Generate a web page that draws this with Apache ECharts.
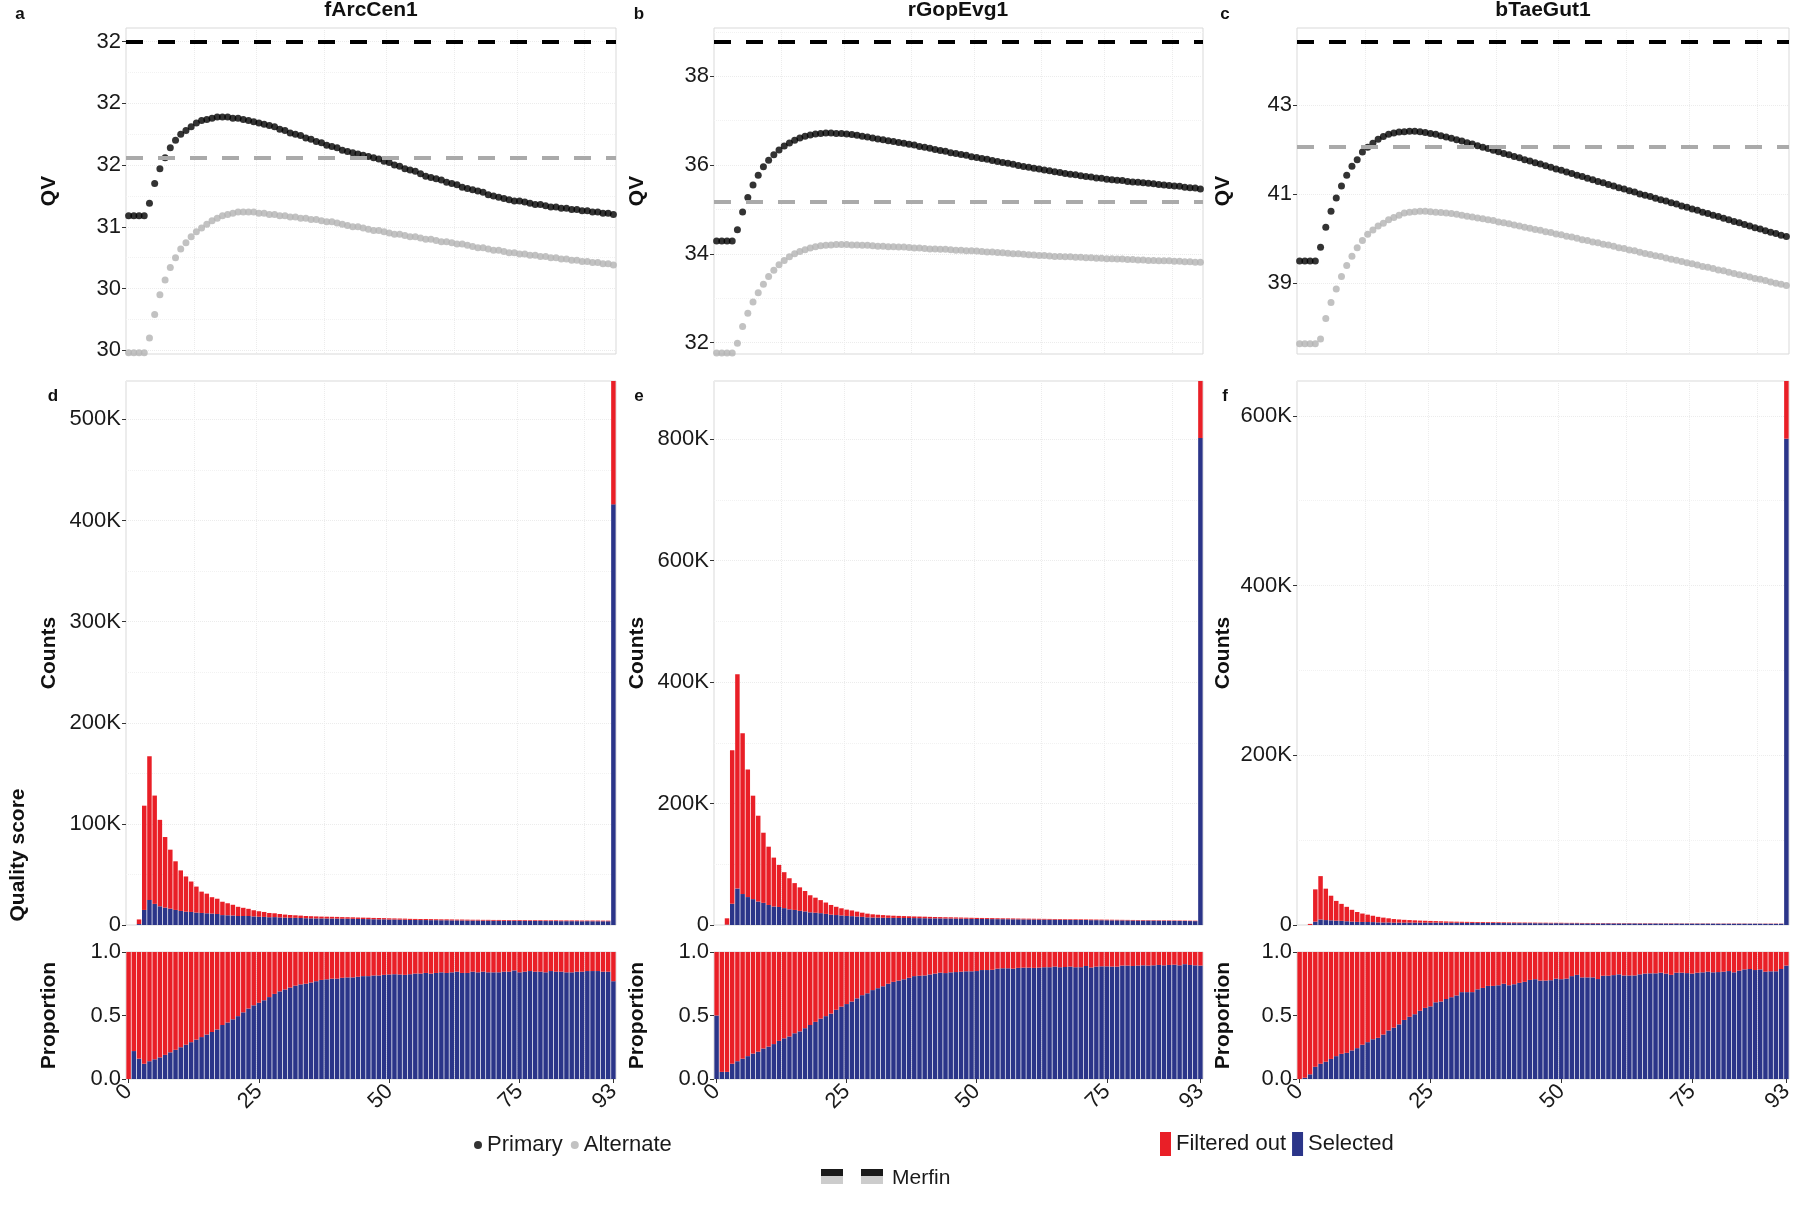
<!DOCTYPE html>
<html><head><meta charset="utf-8">
<script src="https://cdn.jsdelivr.net/npm/echarts@6/dist/echarts.min.js"></script>
<style>html,body{margin:0;padding:0;background:#fff}#chart{width:1800px;height:1213px}</style>
</head><body><div id="chart"></div>
<script>
// ---------------- DATA ----------------
const qualityScores = Array.from({length: 94}, (_, i) => String(i));
const assemblies = ['fArcCen1', 'rGopEvg1', 'bTaeGut1'];
const xTickIdx = [0, 25, 50, 75, 93];

const qvPrimaryA = [31.09,31.09,31.09,31.09,31.19,31.35,31.47,31.56,31.64,31.70,
 31.75,31.78,31.81,31.84,31.86,31.87,31.88,31.89,31.89,31.89,
 31.88,31.88,31.87,31.86,31.85,31.84,31.83,31.82,31.81,31.79,
 31.78,31.76,31.75,31.74,31.72,31.71,31.69,31.68,31.66,31.65,
 31.64,31.62,31.61,31.60,31.59,31.58,31.57,31.56,31.55,31.53,
 31.52,31.50,31.49,31.47,31.46,31.45,31.43,31.41,31.40,31.39,
 31.38,31.36,31.35,31.34,31.32,31.31,31.30,31.29,31.28,31.26,
 31.25,31.24,31.23,31.22,31.21,31.21,31.20,31.19,31.18,31.18,
 31.17,31.16,31.16,31.15,31.15,31.14,31.14,31.13,31.13,31.12,
 31.12,31.11,31.11,31.10];
const qvAltA = [29.98,29.98,29.98,29.98,30.10,30.29,30.45,30.57,30.67,30.75,
 30.82,30.87,30.92,30.96,30.99,31.02,31.05,31.07,31.09,31.10,
 31.11,31.12,31.12,31.12,31.12,31.11,31.11,31.10,31.10,31.09,
 31.09,31.08,31.08,31.07,31.07,31.06,31.06,31.05,31.04,31.04,
 31.03,31.02,31.01,31.00,31.00,30.99,30.98,30.97,30.97,30.96,
 30.95,30.94,30.94,30.93,30.92,30.92,30.91,30.90,30.90,30.89,
 30.88,30.88,30.87,30.86,30.86,30.85,30.84,30.83,30.83,30.82,
 30.81,30.81,30.80,30.79,30.79,30.78,30.78,30.77,30.77,30.76,
 30.76,30.75,30.75,30.74,30.74,30.73,30.73,30.72,30.72,30.71,
 30.71,30.70,30.70,30.69];
const qvPrimaryB = [34.29,34.29,34.29,34.29,34.54,34.94,35.27,35.55,35.77,35.96,
 36.11,36.23,36.34,36.43,36.50,36.56,36.61,36.65,36.68,36.70,
 36.71,36.72,36.72,36.71,36.71,36.70,36.69,36.67,36.65,36.63,
 36.61,36.59,36.57,36.55,36.53,36.51,36.49,36.47,36.45,36.42,
 36.40,36.38,36.35,36.33,36.31,36.28,36.26,36.24,36.22,36.19,
 36.17,36.15,36.13,36.10,36.08,36.06,36.04,36.02,35.99,35.97,
 35.95,35.93,35.91,35.89,35.87,35.85,35.83,35.81,35.79,35.78,
 35.76,35.74,35.73,35.71,35.70,35.68,35.67,35.66,35.65,35.63,
 35.62,35.61,35.60,35.59,35.58,35.56,35.55,35.54,35.53,35.52,
 35.50,35.49,35.48,35.46];
const qvAltB = [31.76,31.76,31.76,31.76,31.98,32.36,32.66,32.91,33.12,33.31,
 33.49,33.63,33.75,33.85,33.93,34.00,34.05,34.09,34.13,34.16,
 34.18,34.19,34.20,34.21,34.21,34.21,34.20,34.20,34.19,34.19,
 34.18,34.17,34.17,34.16,34.16,34.15,34.15,34.14,34.13,34.13,
 34.12,34.11,34.11,34.10,34.10,34.09,34.08,34.08,34.07,34.07,
 34.06,34.05,34.04,34.04,34.03,34.02,34.01,34.00,34.00,33.99,
 33.98,33.97,33.96,33.96,33.95,33.94,33.94,33.93,33.93,33.92,
 33.92,33.91,33.91,33.90,33.90,33.89,33.89,33.88,33.88,33.87,
 33.87,33.86,33.86,33.85,33.85,33.84,33.84,33.84,33.83,33.83,
 33.82,33.82,33.81,33.81];
const qvPrimaryC = [39.49,39.49,39.49,39.49,39.80,40.25,40.61,40.91,41.18,41.42,
 41.62,41.77,41.94,42.05,42.14,42.23,42.29,42.34,42.37,42.39,
 42.40,42.41,42.41,42.40,42.38,42.36,42.34,42.31,42.28,42.25,
 42.22,42.19,42.15,42.12,42.08,42.05,42.02,41.98,41.95,41.91,
 41.88,41.84,41.81,41.77,41.74,41.70,41.67,41.63,41.60,41.56,
 41.53,41.49,41.46,41.42,41.39,41.35,41.32,41.28,41.25,41.21,
 41.18,41.14,41.11,41.07,41.04,41.00,40.97,40.94,40.90,40.87,
 40.84,40.80,40.77,40.73,40.70,40.66,40.63,40.59,40.56,40.52,
 40.49,40.45,40.42,40.38,40.35,40.31,40.28,40.24,40.21,40.17,
 40.14,40.11,40.07,40.04];
const qvAltC = [37.63,37.63,37.63,37.63,37.74,38.20,38.56,38.86,39.14,39.39,
 39.60,39.79,39.95,40.09,40.19,40.28,40.34,40.42,40.47,40.52,
 40.57,40.59,40.60,40.61,40.61,40.60,40.59,40.58,40.57,40.56,
 40.54,40.52,40.50,40.48,40.46,40.44,40.42,40.40,40.37,40.35,
 40.33,40.30,40.28,40.25,40.23,40.20,40.18,40.15,40.13,40.10,
 40.08,40.05,40.03,40.00,39.97,39.95,39.92,39.90,39.87,39.85,
 39.82,39.79,39.77,39.74,39.72,39.69,39.66,39.64,39.61,39.59,
 39.56,39.53,39.51,39.48,39.45,39.43,39.40,39.37,39.35,39.32,
 39.29,39.27,39.24,39.21,39.18,39.16,39.13,39.10,39.08,39.05,
 39.02,38.99,38.97,38.94];

const merfinPrimary = [32.5, 38.78, 44.42];
const merfinAlternate = [31.56, 35.17, 42.05];

const qvTicksA = [30, 30.5, 31, 31.5, 32, 32.5];
const qvTickLabelsA = ['30', '30', '31', '32', '32', '32'];
const qvTicksB = [32, 34, 36, 38];
const qvTickLabelsB = ['32', '34', '36', '38'];
const qvTicksC = [39, 41, 43];
const qvTickLabelsC = ['39', '41', '43'];

// counts in thousands
const totalD = [0,0,5.5,118,167,128,104,87,74.5,63,
 54,48,43,38,33,31,27.5,26,23,21.5,
 20,18,17,16,14.6,13.6,12.9,11.9,11.6,10.9,
 10.3,9.9,9.6,9.3,8.9,8.7,8.5,8.3,8.2,8.1,
 8.0,7.8,7.7,7.6,7.4,7.3,7.2,7.0,6.9,6.8,
 6.6,6.5,6.4,6.3,6.1,6.0,5.9,5.9,5.8,5.7,
 5.6,5.6,5.5,5.4,5.4,5.3,5.2,5.2,5.1,5.1,
 5.0,5.0,4.9,4.9,4.8,4.8,4.8,4.7,4.7,4.7,
 4.6,4.6,4.6,4.5,4.5,4.5,4.5,4.4,4.4,4.4,
 4.4,4.3,4.3,538];
const selectedD = [0,0,0.9,14.9,24.8,20.9,18.5,17.2,16.2,14.9,
 13.9,13.2,12.9,12.3,11.9,11.6,11.3,10.9,9.8,9.6,
 9.4,8.9,8.9,8.9,8.5,8.2,8.0,7.7,7.8,7.5,
 7.3,7.1,7.1,6.9,6.7,6.6,6.5,6.5,6.4,6.4,
 6.3,6.2,6.2,6.1,6.0,5.9,5.8,5.7,5.6,5.6,
 5.4,5.4,5.3,5.2,5.0,5.0,4.9,4.9,4.8,4.8,
 4.7,4.7,4.6,4.6,4.5,4.4,4.4,4.4,4.3,4.3,
 4.2,4.2,4.1,4.2,4.1,4.0,4.1,4.0,4.0,4.0,
 3.9,3.9,3.9,3.8,3.8,3.8,3.8,3.7,3.8,3.7,
 3.7,3.7,3.7,416];
const totalE = [0,0,11,288,413,316,256,213,180,152,
 129,111,99,87,77,69,62,56,49,45,
 41,37,33,30,27.5,25.3,24,22,20.3,18.7,
 17.6,16.9,16.3,15.7,15.3,15.0,14.7,14.4,14.1,13.9,
 13.7,13.4,13.2,13.0,12.8,12.7,12.5,12.3,12.1,11.9,
 11.7,11.6,11.4,11.3,11.1,11.0,10.9,10.8,10.6,10.5,
 10.4,10.3,10.2,10.1,10.0,9.9,9.8,9.6,9.5,9.4,
 9.3,9.2,9.1,9.0,8.9,8.8,8.7,8.6,8.5,8.4,
 8.3,8.2,8.1,8.0,7.9,7.8,7.7,7.6,7.5,7.4,
 7.3,7.2,7.1,896];
const selectedE = [0,0,0.6,35,60,51,46,42.6,38.7,36.5,
 33,30.5,29.7,27.8,25.8,24.8,23.3,22.4,20.8,20.2,
 19.5,18.3,17.0,16.4,15.7,14.9,14.6,14.0,13.4,12.6,
 12.3,12.1,11.9,11.8,11.7,11.6,11.5,11.5,11.4,11.3,
 11.2,11.0,11.0,10.9,10.7,10.7,10.5,10.4,10.3,10.1,
 9.9,10.0,9.8,9.7,9.6,9.6,9.5,9.4,9.3,9.2,
 9.1,9.0,8.9,8.9,8.8,8.8,8.6,8.5,8.4,8.3,
 8.2,8.2,8.0,8.0,7.9,7.8,7.7,7.7,7.6,7.5,
 7.4,7.3,7.2,7.2,7.1,7.0,6.9,6.8,6.8,6.6,
 6.6,6.5,6.4,802];
const totalF = [0,0,1.3,42,57.6,42.8,34.5,28.4,24.9,21.4,
 17.9,15.3,13.5,12.2,10.9,9.6,8.7,7.9,7.0,6.5,
 6.1,5.8,5.5,5.2,5.0,4.8,4.6,4.4,4.2,4.0,
 3.9,3.8,3.7,3.6,3.5,3.4,3.3,3.3,3.2,3.1,
 3.0,3.0,2.9,2.9,2.8,2.8,2.7,2.7,2.6,2.6,
 2.6,2.5,2.5,2.5,2.4,2.4,2.4,2.3,2.3,2.3,
 2.2,2.2,2.2,2.2,2.1,2.1,2.1,2.1,2.0,2.0,
 2.0,2.0,2.0,1.9,1.9,1.9,1.9,1.9,1.9,1.8,
 1.8,1.8,1.8,1.8,1.8,1.8,1.7,1.7,1.7,1.7,
 1.7,1.7,1.7,641];
const selectedF = [0,0,0.05,4.0,6.5,5.8,5.5,5.1,4.9,4.4,
 4.0,3.7,3.6,3.5,3.4,3.1,3.0,3.0,2.8,2.8,
 2.8,2.8,2.8,2.8,2.8,2.7,2.8,2.7,2.6,2.6,
 2.6,2.6,2.5,2.5,2.5,2.4,2.4,2.4,2.4,2.3,
 2.2,2.2,2.2,2.2,2.2,2.1,2.1,2.1,2.0,2.1,
 2.0,2.0,2.0,2.0,1.9,1.9,1.9,1.8,1.9,1.9,
 1.8,1.8,1.8,1.8,1.8,1.7,1.7,1.7,1.7,1.7,
 1.7,1.6,1.7,1.6,1.6,1.6,1.6,1.6,1.6,1.6,
 1.5,1.5,1.5,1.5,1.5,1.5,1.5,1.5,1.5,1.4,
 1.4,1.4,1.5,573];

// proportion selected
const propD = [0.00,0.22,0.16,0.12,0.14,0.155,0.17,0.19,0.21,0.23,
 0.25,0.27,0.29,0.31,0.33,0.35,0.37,0.39,0.425,0.445,
 0.47,0.495,0.525,0.555,0.58,0.60,0.62,0.645,0.67,0.69,
 0.705,0.72,0.735,0.745,0.75,0.76,0.77,0.78,0.785,0.79,
 0.79,0.797,0.80,0.80,0.805,0.81,0.81,0.815,0.815,0.82,
 0.823,0.825,0.823,0.82,0.825,0.83,0.83,0.835,0.83,0.835,
 0.84,0.835,0.84,0.845,0.835,0.835,0.845,0.84,0.845,0.84,
 0.84,0.84,0.845,0.845,0.855,0.84,0.845,0.85,0.845,0.845,
 0.84,0.85,0.845,0.845,0.84,0.84,0.845,0.845,0.85,0.85,
 0.85,0.845,0.845,0.77];
const propE = [0.50,0.056,0.056,0.12,0.14,0.16,0.18,0.20,0.215,0.24,
 0.255,0.275,0.30,0.32,0.335,0.36,0.375,0.40,0.425,0.45,
 0.475,0.495,0.515,0.545,0.57,0.59,0.61,0.635,0.66,0.675,
 0.70,0.715,0.73,0.75,0.765,0.775,0.785,0.797,0.81,0.813,
 0.815,0.823,0.83,0.837,0.834,0.84,0.842,0.845,0.848,0.848,
 0.85,0.858,0.858,0.86,0.869,0.872,0.872,0.869,0.875,0.877,
 0.877,0.875,0.877,0.88,0.88,0.885,0.88,0.882,0.885,0.88,
 0.88,0.89,0.878,0.885,0.887,0.887,0.885,0.885,0.893,0.893,
 0.89,0.893,0.895,0.893,0.895,0.898,0.895,0.898,0.90,0.895,
 0.904,0.898,0.895,0.893];
const propF = [0.00,0.01,0.037,0.096,0.12,0.136,0.158,0.18,0.198,0.206,
 0.225,0.243,0.27,0.29,0.313,0.324,0.35,0.382,0.404,0.43,
 0.465,0.49,0.51,0.537,0.56,0.572,0.604,0.61,0.63,0.644,
 0.658,0.684,0.684,0.684,0.706,0.717,0.733,0.733,0.738,0.75,
 0.738,0.746,0.757,0.765,0.78,0.786,0.775,0.775,0.778,0.79,
 0.786,0.79,0.81,0.82,0.80,0.80,0.80,0.787,0.813,0.813,
 0.818,0.824,0.815,0.815,0.815,0.824,0.83,0.832,0.832,0.837,
 0.83,0.82,0.837,0.837,0.834,0.83,0.837,0.84,0.845,0.84,
 0.842,0.845,0.85,0.84,0.853,0.863,0.866,0.858,0.863,0.845,
 0.848,0.848,0.866,0.893];

// ---------------- STYLE / LAYOUT ----------------
const FONT = "'Liberation Sans', Arial, Helvetica, sans-serif";
const RED = '#E91F27', BLUE = '#2B3589';
const GRIDC = '#ECECEC';
const TXT = '#1a1a1a';
const colLeft = [126, 714, 1297], colWidth = [490, 489, 492];
const rowTop = [28, 381, 952], rowH = [326, 544, 127];

const qvPanels = [
  {prim: qvPrimaryA, alt: qvAltA, min: 29.97, max: 32.61, ticks: qvTicksA, labels: qvTickLabelsA, split: 5},
  {prim: qvPrimaryB, alt: qvAltB, min: 31.74, max: 39.09, ticks: qvTicksB, labels: qvTickLabelsB, split: 4},
  {prim: qvPrimaryC, alt: qvAltC, min: 37.40, max: 44.73, ticks: qvTicksC, labels: qvTickLabelsC, split: 4}
];
const countPanels = [
  {total: totalD, sel: selectedD, max: 538, interval: 100},
  {total: totalE, sel: selectedE, max: 896, interval: 200},
  {total: totalF, sel: selectedF, max: 641, interval: 200}
];
const propPanels = [propD, propE, propF];
const vGridIdx = [13, 25, 38, 50, 63, 75, 88];

const grids = [], xAxes = [], yAxes = [], series = [];
const nameStyle = {fontSize: 21, fontWeight: 'bold', fontFamily: FONT, color: '#111'};
const lblStyle = {fontSize: 22, fontFamily: FONT, color: TXT};
const tickStyle = {show: true, length: 4, lineStyle: {color: '#333', width: 1}};

for (let r = 0; r < 3; r++) {
  for (let c = 0; c < 3; c++) {
    const gi = r * 3 + c;
    grids.push({left: colLeft[c], top: rowTop[r], width: colWidth[c], height: rowH[r],
      show: true, borderColor: '#D9D9D9', borderWidth: 1, backgroundColor: '#fff',
      containLabel: false, outerBoundsMode: 'none'});
    const isBottom = r === 2;
    xAxes.push({
      gridIndex: gi, type: 'category', data: qualityScores, boundaryGap: true,
      axisLine: {show: false},
      axisTick: isBottom ? Object.assign({}, tickStyle, {alignWithLabel: true, interval: (i) => xTickIdx.includes(i)}) : {show: false},
      axisLabel: isBottom ? Object.assign({}, lblStyle, {show: true, interval: (i) => xTickIdx.includes(i), rotate: 45, margin: 9}) : {show: false},
      splitLine: {show: true, interval: (i) => vGridIdx.includes(i), lineStyle: {color: GRIDC, width: 1, type: 'dotted'}}
    });
    if (r === 0) {
      const p = qvPanels[c];
      yAxes.push({
        gridIndex: gi, type: 'value', min: p.min, max: p.max, splitNumber: p.split,
        axisLine: {show: false},
        axisTick: Object.assign({}, tickStyle, {customValues: p.ticks}),
        axisLabel: Object.assign({}, lblStyle, {customValues: p.ticks, margin: 5,
          formatter: (v) => { const k = p.ticks.findIndex(t => Math.abs(t - v) < 1e-6); return k >= 0 ? p.labels[k] : ''; }}),
        splitLine: {show: true, lineStyle: {color: GRIDC, type: 'dotted'}},
        minorTick: {show: false, splitNumber: 2},
        minorSplitLine: {show: c !== 2, lineStyle: {color: '#F2F2F2', type: 'dotted'}},
        name: 'QV', nameLocation: 'middle', nameRotate: 90, nameGap: c === 2 ? 63 : 66, nameTextStyle: nameStyle
      });
    } else if (r === 1) {
      const p = countPanels[c];
      yAxes.push({
        gridIndex: gi, type: 'value', min: 0, max: p.max, interval: p.interval,
        axisLine: {show: false},
        axisTick: tickStyle,
        axisLabel: Object.assign({}, lblStyle, {margin: 5, showMaxLabel: false,
          formatter: (v) => v === 0 ? '0' : v + 'K'}),
        splitLine: {show: true, lineStyle: {color: GRIDC, type: 'dotted'}},
        minorTick: {show: false, splitNumber: 2},
        minorSplitLine: {show: true, lineStyle: {color: '#F2F2F2', type: 'dotted'}},
        name: 'Counts', nameLocation: 'middle', nameRotate: 90, nameGap: c === 2 ? 63 : 66, nameTextStyle: nameStyle
      });
    } else {
      yAxes.push({
        gridIndex: gi, type: 'value', min: 0, max: 1, interval: 0.5,
        axisLine: {show: false},
        axisTick: tickStyle,
        axisLabel: Object.assign({}, lblStyle, {margin: 5, formatter: (v) => v.toFixed(1)}),
        splitLine: {show: false},
        name: 'Proportion', nameLocation: 'middle', nameRotate: 90, nameGap: c === 2 ? 63 : 66, nameTextStyle: nameStyle
      });
    }
  }
}

// QV scatter series + Merfin reference lines
for (let c = 0; c < 3; c++) {
  const p = qvPanels[c];
  series.push({
    name: 'Alternate', type: 'scatter', xAxisIndex: c, yAxisIndex: c, data: p.alt,
    symbol: 'circle', symbolSize: 7, itemStyle: {color: '#B3B3B3'}, z: 3, silent: true,
    markLine: {silent: true, symbol: ['none', 'none'], label: {show: false},
      lineStyle: {color: '#AAAAAA', type: [17, 15], width: 4},
      data: [{yAxis: merfinAlternate[c]}]}
  });
  series.push({
    name: 'Primary', type: 'scatter', xAxisIndex: c, yAxisIndex: c, data: p.prim,
    symbol: 'circle', symbolSize: 7, itemStyle: {color: '#000000'}, z: 4, silent: true,
    markLine: {silent: true, symbol: ['none', 'none'], label: {show: false},
      lineStyle: {color: '#000000', type: [17, 15], width: 4},
      data: [{yAxis: merfinPrimary[c]}]}
  });
}
// Counts stacked bars
for (let c = 0; c < 3; c++) {
  const p = countPanels[c];
  const filtered = p.total.map((t, i) => +(t - p.sel[i]).toFixed(3));
  series.push({name: 'Selected', type: 'bar', xAxisIndex: 3 + c, yAxisIndex: 3 + c, stack: 'cnt' + c,
    data: p.sel, itemStyle: {color: BLUE}, barCategoryGap: '14%', silent: true});
  series.push({name: 'Filtered out', type: 'bar', xAxisIndex: 3 + c, yAxisIndex: 3 + c, stack: 'cnt' + c,
    data: filtered, itemStyle: {color: RED}, barCategoryGap: '14%', silent: true});
}
// Proportion stacked bars
for (let c = 0; c < 3; c++) {
  const sel = propPanels[c];
  const filtered = sel.map(v => +(1 - v).toFixed(4));
  series.push({name: 'Selected', type: 'bar', xAxisIndex: 6 + c, yAxisIndex: 6 + c, stack: 'prop' + c,
    data: sel, itemStyle: {color: BLUE}, barCategoryGap: '14%', silent: true});
  series.push({name: 'Filtered out', type: 'bar', xAxisIndex: 6 + c, yAxisIndex: 6 + c, stack: 'prop' + c,
    data: filtered, itemStyle: {color: RED}, barCategoryGap: '14%', silent: true});
}

// ---------------- TEXT / DECOR ----------------
const titleX = [371, 958, 1543];
const letterPos = [['a', 20, 14], ['b', 639, 14], ['c', 1225, 14], ['d', 53, 396], ['e', 639, 396], ['f', 1225, 396]];
const graphic = [];
assemblies.forEach((t, i) => graphic.push({type: 'text', x: titleX[i], y: 10,
  style: {text: t, font: 'bold 21px ' + FONT, fill: '#111', textAlign: 'center', textVerticalAlign: 'middle', align: 'center', verticalAlign: 'middle'}}));
letterPos.forEach(([t, x, y]) => graphic.push({type: 'text', x: x, y: y,
  style: {text: t, font: 'bold 17px ' + FONT, fill: '#111', textAlign: 'center', textVerticalAlign: 'middle', align: 'center', verticalAlign: 'middle'}}));
graphic.push({type: 'text', x: 18, y: 855, rotation: Math.PI / 2,
  style: {text: 'Quality score', font: 'bold 21px ' + FONT, fill: '#111', textAlign: 'center', textVerticalAlign: 'middle', align: 'center', verticalAlign: 'middle'}});
// Merfin linetype legend
[821, 861].forEach(x => {
  graphic.push({type: 'rect', shape: {x: x, y: 1169, width: 22, height: 7}, style: {fill: '#1a1a1a'}});
  graphic.push({type: 'rect', shape: {x: x, y: 1176, width: 22, height: 8}, style: {fill: '#CCCCCC'}});
});
graphic.push({type: 'text', x: 892, y: 1178,
  style: {text: 'Merfin', font: '21px ' + FONT, fill: TXT, textAlign: 'left', textVerticalAlign: 'middle', align: 'left', verticalAlign: 'middle'}});

const option = {
  animation: false,
  backgroundColor: '#ffffff',
  textStyle: {fontFamily: FONT},
  grid: grids, xAxis: xAxes, yAxis: yAxes, series: series,
  legend: [
    {data: ['Primary', 'Alternate'], left: 474, top: 1134, icon: 'circle', itemWidth: 8, itemHeight: 8, itemGap: 8,
      padding: 0, selectedMode: false, textStyle: {fontSize: 22, fontFamily: FONT, color: TXT}},
    {data: ['Filtered out', 'Selected'], left: 1160, top: 1132, icon: 'rect', itemWidth: 11, itemHeight: 24, itemGap: 6,
      padding: 0, selectedMode: false, textStyle: {fontSize: 22, fontFamily: FONT, color: TXT}}
  ],
  graphic: graphic
};
const chart = echarts.init(document.getElementById('chart'), null, {renderer: 'canvas', width: 1800, height: 1213});
chart.setOption(option);
</script>
</body></html>
